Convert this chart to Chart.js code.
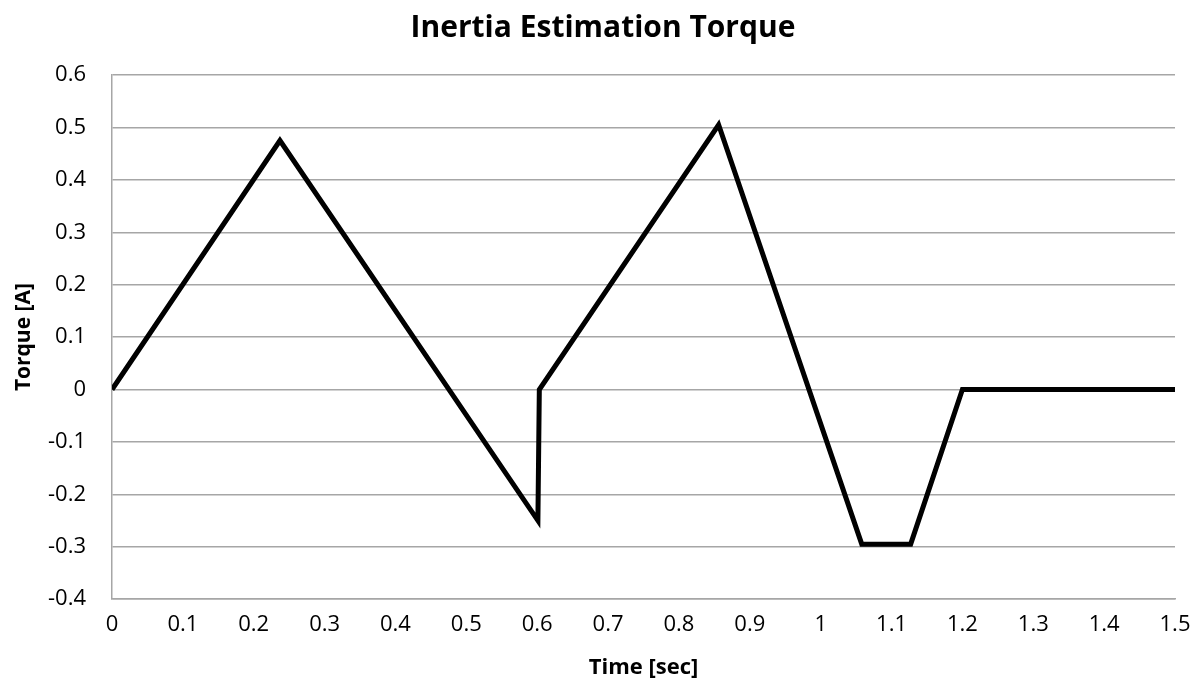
<!DOCTYPE html>
<html>
<head>
<meta charset="utf-8">
<script src="https://cdn.jsdelivr.net/npm/chart.js@4.4.0/dist/chart.umd.min.js"></script>
<style>
  html, body { margin: 0; padding: 0; background: #fff; }
  #wrap { width: 1195px; height: 681px; }
</style>
</head>
<body>
<div id="wrap"><canvas id="torque"></canvas></div>
<script>
// Perfil de torque usado para estimar la inercia
const tiempos = [0, 0.237, 0.601, 0.603, 0.856, 1.058, 1.127, 1.2, 1.5];
const torques = [0, 0.475, -0.25, 0, 0.505, -0.295, -0.295, 0, 0];

const ticksTiempo = [0, 0.1, 0.2, 0.3, 0.4, 0.5, 0.6, 0.7, 0.8, 0.9, 1, 1.1, 1.2, 1.3, 1.4, 1.5];
const ticksTorque = [-0.4, -0.3, -0.2, -0.1, 0, 0.1, 0.2, 0.3, 0.4, 0.5, 0.6];

const fuente = "'Open Sans', 'Noto Sans', sans-serif";
const gris = '#a6a6a6';

const puntos = tiempos.map((t, i) => ({ x: t, y: torques[i] }));

new Chart(document.getElementById('torque'), {
    type: 'scatter',
    data: {
        datasets: [{
            label: 'Torque',
            data: puntos,
            showLine: true,
            borderColor: '#000',
            borderWidth: 5,
            pointRadius: 0,
            borderJoinStyle: 'miter',
            tension: 0
        }]
    },
    options: {
        responsive: true,
        maintainAspectRatio: false,
        animation: false,
        layout: { padding: { left: 11, right: 0, top: 0, bottom: 0 } },
        plugins: {
            legend: { display: false },
            tooltip: { enabled: false },
            title: {
                display: true,
                text: 'Inertia Estimation Torque',
                color: '#000',
                font: { family: fuente, size: 30, weight: 'bold' },
                padding: { top: 10, bottom: 29 }
            }
        },
        scales: {
            x: {
                type: 'linear',
                min: 0,
                max: 1.5,
                afterBuildTicks: (axis) => { axis.ticks = ticksTiempo.map(v => ({ value: v })); },
                // solo el margen justo para la etiqueta "1.5"
                afterFit: (axis) => { axis.paddingRight = 20; },
                ticks: {
                    color: '#000',
                    font: { family: fuente, size: 22 },
                    padding: 12,
                    maxRotation: 0,
                    callback: (v) => String(v)
                },
                grid: { display: false, drawTicks: false },
                border: { display: true, color: gris, width: 1.5 },
                title: {
                    display: true,
                    text: 'Time [sec]',
                    color: '#000',
                    font: { family: fuente, size: 22, weight: 'bold' },
                    padding: { top: 5, bottom: 0 }
                }
            },
            y: {
                min: -0.4,
                max: 0.6,
                afterBuildTicks: (axis) => { axis.ticks = ticksTorque.map(v => ({ value: v })); },
                // ancho fijo del eje para dejar el área del gráfico en su sitio
                afterFit: (axis) => { axis.width = 101; },
                ticks: {
                    color: '#000',
                    font: { family: fuente, size: 22 },
                    padding: 26,
                    callback: (v) => String(v)
                },
                grid: { color: gris, lineWidth: 1.5, drawTicks: false },
                border: { display: true, color: gris, width: 1.5 },
                title: {
                    display: true,
                    text: 'Torque [A]',
                    color: '#000',
                    font: { family: fuente, size: 21, weight: 'bold' },
                    padding: 0
                }
            }
        }
    }
});
</script>
</body>
</html>
